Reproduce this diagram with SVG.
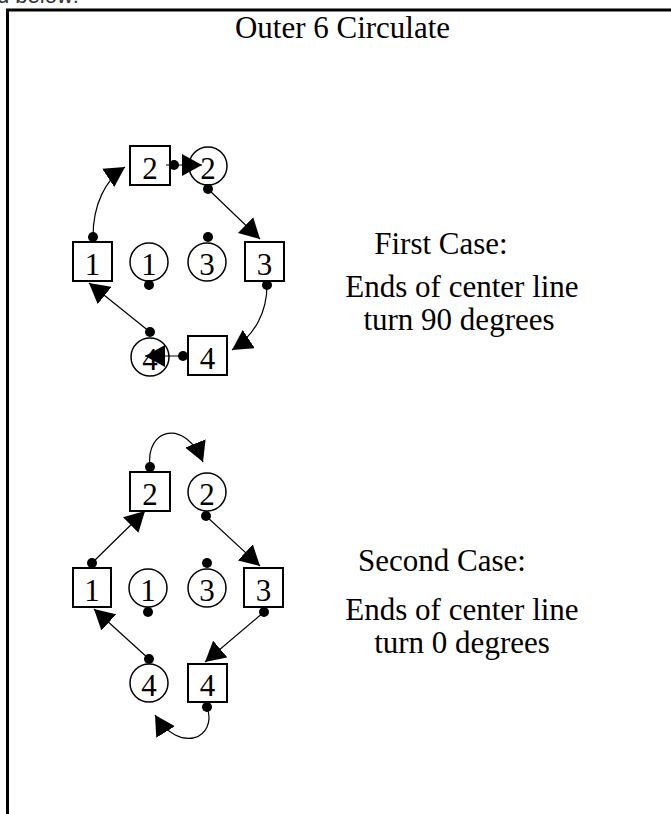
<svg xmlns="http://www.w3.org/2000/svg" width="671" height="814" viewBox="0 0 671 814">
  <style>
    .box { fill: #fff; stroke: #000; stroke-width: 2; }
    .ring { fill: #fff; stroke: #000; stroke-width: 1.5; }
    .dot { fill: #000; }
    .num { font-family: "Liberation Serif", "Times New Roman", serif; font-size: 31px; text-anchor: middle; fill: #000; }
    .label { font-family: "Liberation Serif", "Times New Roman", serif; font-size: 31px; text-anchor: middle; fill: #000; }
    .link { fill: none; stroke: #000; stroke-width: 1.2; marker-end: url(#head); }
  </style>
  <defs>
    <marker id="head" markerUnits="userSpaceOnUse" markerWidth="20" markerHeight="22" refX="20" refY="11" orient="auto">
      <path d="M0,0 L20,11 L0,22 z" fill="#000"/>
    </marker>
  </defs>

  <rect width="671" height="814" fill="#fff"/>

  <!-- running text clipped at the top edge -->
  <text x="-3" y="2.5" font-family="Liberation Sans, Arial, sans-serif" font-size="22" fill="#333">d below:</text>

  <!-- frame -->
  <path d="M7.5,814 L7.5,10 L671,10" fill="none" stroke="#000" stroke-width="3"/>

  <text class="label" x="342.5" y="38">Outer 6 Circulate</text>

  <!-- first case -->
  <g id="case1-box2"><rect class="box" x="130" y="146" width="40" height="39"/><text class="num" x="150" y="179">2</text><circle class="dot" cx="174" cy="165" r="5"/></g>
  <g id="case1-ring2"><circle class="ring" cx="208" cy="166" r="19"/><text class="num" x="208" y="179">2</text><circle class="dot" cx="208" cy="189" r="5"/></g>
  <g id="case1-box1"><rect class="box" x="73" y="242" width="39" height="39"/><text class="num" x="92.5" y="275">1</text><circle class="dot" cx="93" cy="237" r="5"/></g>
  <g id="case1-ring1"><circle class="ring" cx="149" cy="262" r="19"/><text class="num" x="149" y="275">1</text><circle class="dot" cx="149" cy="285" r="5"/></g>
  <g id="case1-ring3"><circle class="ring" cx="207" cy="262" r="19"/><text class="num" x="207" y="275">3</text><circle class="dot" cx="208" cy="237" r="5"/></g>
  <g id="case1-box3"><rect class="box" x="245" y="242" width="39" height="39"/><text class="num" x="264.5" y="275">3</text><circle class="dot" cx="267" cy="285" r="5"/></g>
  <g id="case1-ring4"><circle class="ring" cx="150" cy="357" r="19"/><text class="num" x="150" y="370">4</text><circle class="dot" cx="150" cy="332" r="5"/></g>
  <g id="case1-box4"><rect class="box" x="188" y="336" width="39" height="39"/><text class="num" x="207.5" y="369">4</text><circle class="dot" cx="183" cy="356" r="5"/></g>

  <g id="case1-text">
    <text class="label" x="441" y="254">First Case:</text>
    <text class="label" x="462" y="297">Ends of center line</text>
    <text class="label" x="459" y="330">turn 90 degrees</text>
  </g>

  <!-- second case -->
  <g id="case2-box2"><rect class="box" x="130" y="472" width="40" height="39"/><text class="num" x="150" y="505">2</text><circle class="dot" cx="150" cy="467" r="5"/></g>
  <g id="case2-ring2"><circle class="ring" cx="207" cy="492" r="19"/><text class="num" x="207" y="505">2</text><circle class="dot" cx="206" cy="516" r="5"/></g>
  <g id="case2-box1"><rect class="box" x="73" y="568" width="38" height="39"/><text class="num" x="92" y="601">1</text><circle class="dot" cx="92" cy="563" r="5"/></g>
  <g id="case2-ring1"><circle class="ring" cx="148" cy="588" r="19"/><text class="num" x="148" y="601">1</text><circle class="dot" cx="148" cy="612" r="5"/></g>
  <g id="case2-ring3"><circle class="ring" cx="207" cy="588" r="19"/><text class="num" x="207" y="601">3</text><circle class="dot" cx="207" cy="563" r="5"/></g>
  <g id="case2-box3"><rect class="box" x="244" y="568" width="39" height="39"/><text class="num" x="263.5" y="601">3</text><circle class="dot" cx="264" cy="612" r="5"/></g>
  <g id="case2-ring4"><circle class="ring" cx="149" cy="683" r="19"/><text class="num" x="149" y="696">4</text><circle class="dot" cx="149" cy="659" r="5"/></g>
  <g id="case2-box4"><rect class="box" x="188" y="664" width="39" height="38"/><text class="num" x="207.5" y="696">4</text><circle class="dot" cx="207" cy="707" r="5"/></g>

  <g id="case2-text">
    <text class="label" x="442" y="571">Second Case:</text>
    <text class="label" x="462" y="620">Ends of center line</text>
    <text class="label" x="462" y="653">turn 0 degrees</text>
  </g>

  <!-- movement paths -->
  <g id="connectors">
    <path class="link" d="M93,237 C93,205 105,180 125,167"/>
    <path class="link" d="M166,165 L202,165"/>
    <path class="link" d="M208,189 L260,239"/>
    <path class="link" d="M267,285 C267,312 255,335 232,350"/>
    <path class="link" d="M183,356 L145,356"/>
    <path class="link" d="M150,332 L89,283"/>

    <path class="link" d="M92,563 L145,511"/>
    <path class="link" d="M150,467 C145,428 185,418 203,462"/>
    <path class="link" d="M206,516 L260,566"/>
    <path class="link" d="M264,612 L205,662"/>
    <path class="link" d="M207,707 C218,738 180,755 155,715"/>
    <path class="link" d="M149,659 L94,609"/>
  </g>
</svg>
